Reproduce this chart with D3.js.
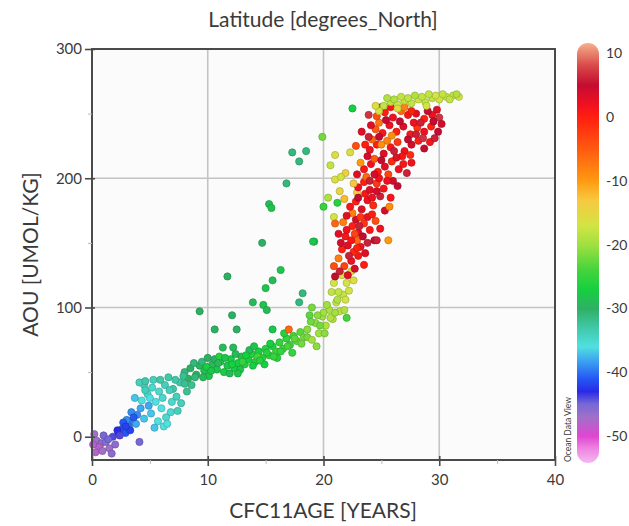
<!DOCTYPE html>
<html>
<head>
<meta charset="utf-8">
<script src="https://cdn.jsdelivr.net/npm/d3@7/dist/d3.min.js"></script>
<style>
  html, body { margin: 0; padding: 0; background: #fff; }
  svg text { font-family: Lato, 'Open Sans', sans-serif; fill: #3a3a3a; }
</style>
</head>
<body>
<div id="chart"></div>
<script>
// [CFC11 age (years), AOU (umol/kg), latitude (deg N)]
const polarPoints = [
    [0.2, 2, -47], [0.4, -3, -47], [0.8, -5, -46], [1.2, -4, -46], [1.5, -9, -47],
    [1.7, -13, -46], [0.6, -8, -48], [1.0, 1, -45], [0.3, -12, -48], [2.0, -6, -46],
    [4.1, -4, -45], [1.8, 0, -44], [2.3, 3, -42], [2.6, 6, -41], [2.2, 5, -43],
    [2.9, 3, -41], [3.2, 9, -40], [3.5, 12, -40], [3.0, 13, -39], [3.9, 17, -39],
    [3.4, 19, -39], [4.2, 22, -38], [2.7, 11, -41], [3.8, 10, -38], [4.5, 14, -37],
    [0.1, -6, -48], [0.9, -11, -47], [1.4, -2, -45], [2.4, 1, -44], [3.3, 5, -42],
    [3.6, 15, -41], [2.9, 8, -42]
];

const cyanPoints = [
    [4.3, 28, -36], [4.8, 33, -35], [5.2, 38, -35], [4.5, 40, -34], [5.8, 35, -35],
    [6.3, 40, -34], [5.5, 27, -36], [6.0, 22, -36], [5.1, 18, -37], [5.7, 12, -36],
    [6.4, 15, -35], [6.9, 27, -35], [7.3, 31, -34], [7.0, 37, -33], [7.6, 42, -33],
    [8.2, 35, -32], [8.6, 40, -32], [6.6, 46, -33], [5.3, 44, -34], [4.9, 24, -38],
    [7.9, 47, -32], [8.9, 46, -31], [6.2, 8, -36], [7.4, 20, -34], [4.1, 42, -34],
    [4.6, 43, -33], [4.6, 36, -34], [5.0, 30, -36], [6.1, 30, -35], [6.7, 36, -34],
    [7.2, 44, -33], [8.0, 41, -32], [5.9, 44, -33], [6.8, 19, -35], [5.4, 7, -37],
    [7.7, 26, -34], [6.5, 10, -36], [3.7, 30, -37]
];

const bandPoints = [
    [8.0, 50, -31], [8.5, 53, -30], [9.0, 48, -30], [9.3, 55, -29], [9.7, 51, -29],
    [10.1, 47, -28], [10.4, 56, -29], [10.8, 52, -28], [11.1, 58, -28], [11.4, 50, -27],
    [11.7, 55, -28], [12.0, 60, -27], [12.3, 53, -27], [12.6, 57, -27], [12.9, 62, -28],
    [13.2, 56, -26], [13.5, 60, -27], [13.8, 64, -26], [14.1, 58, -26], [14.4, 66, -27],
    [14.7, 61, -26], [15.0, 68, -26], [15.3, 63, -25], [15.6, 70, -26], [15.9, 66, -25],
    [16.2, 73, -25], [16.5, 68, -24], [16.8, 76, -25], [17.1, 71, -24], [17.4, 78, -24],
    [17.7, 74, -23], [18.0, 81, -23], [18.3, 77, -22], [9.5, 58, -31], [10.6, 60, -30],
    [11.9, 49, -29], [12.8, 52, -28], [13.6, 67, -29], [14.9, 56, -27], [16.0, 61, -26],
    [17.3, 65, -25], [9.9, 54, -27], [11.0, 62, -26], [13.0, 58, -25], [14.3, 62, -24],
    [8.3, 45, -30], [8.8, 57, -31], [9.6, 46, -29], [10.3, 51, -28], [10.9, 57, -29],
    [11.5, 61, -28], [12.1, 56, -27], [12.6, 49, -28], [13.3, 63, -27], [13.9, 55, -27],
    [14.5, 59, -26], [15.1, 65, -26], [15.7, 62, -25], [16.3, 66, -25], [16.9, 70, -24],
    [17.5, 76, -23], [18.1, 72, -22], [18.6, 77, -22], [14.0, 70, -28], [15.4, 72, -27],
    [16.6, 80, -26], [10.0, 61, -30], [12.4, 64, -29]
];

const outlierPoints = [
    [19.9, 232, -22], [17.3, 220, -31], [18.5, 221, -31], [17.9, 213, -31], [16.8, 196, -31],
    [15.3, 180, -29], [15.5, 177, -28], [20.0, 178, -25], [14.7, 150, -30], [19.2, 151, -27],
    [11.7, 124, -30], [16.3, 129, -28], [15.6, 121, -29], [15.0, 115, -28], [13.9, 104, -29],
    [14.8, 102, -28], [15.1, 98, -29], [18.2, 111, -31], [17.9, 104, -31], [9.3, 97, -30],
    [12.1, 94, -30], [10.6, 83, -30], [12.5, 83, -30], [15.6, 83, -28], [11.3, 69, -29],
    [12.2, 69, -29], [17.0, 83, -6], [22.5, 254, -27], [21.2, 181, -26], [19.1, 151, -28]
];

const transitionPoints = [
    [18.6, 83, -21], [19.0, 75, -20], [19.3, 88, -21], [19.6, 80, -20], [19.9, 93, -20],
    [20.2, 86, -19], [20.5, 98, -19], [20.8, 91, -19], [21.1, 104, -18], [21.4, 97, -18],
    [21.7, 110, -18], [22.0, 119, -17], [21.2, 106, -19], [22.2, 113, -17], [20.0, 96, -20],
    [22.0, 92, -24], [19.0, 100, -22], [21.6, 125, -16], [22.4, 128, -16], [20.7, 112, -18],
    [20.6, 210, -18], [21.0, 218, -16], [20.4, 185, -19], [20.9, 170, -17], [21.4, 190, -15],
    [21.9, 204, -14], [21.0, 199, -16], [21.5, 201, -17], [18.9, 89, -22], [19.5, 94, -21],
    [20.3, 102, -20], [20.6, 92, -19], [21.0, 96, -20], [21.3, 112, -18], [21.9, 106, -17],
    [20.1, 80, -21], [19.7, 86, -22], [20.9, 119, -17], [22.6, 121, -16], [21.8, 98, -19],
    [18.8, 94, -23], [19.4, 70, -21]
];

const tropicalPoints = [
    [21.8, 132, -3], [22.4, 136, 2], [22.7, 130, 4], [21.3, 138, -8], [23.0, 140, 1], [21.0, 124, 5],
    [21.6, 145, 0], [22.1, 148, 3], [22.6, 143, -1], [23.2, 147, 2], [23.8, 150, 6], [22.9, 152, -6],
    [21.9, 155, 1], [24.4, 152, 5], [25.6, 152, -10], [24.6, 152, 6],
    [22.0, 160, 2], [22.5, 163, 0], [23.0, 158, 3], [23.5, 165, -2], [24.0, 160, 1], [22.8, 168, 4],
    [21.7, 166, -8], [23.8, 170, 2], [24.5, 167, -4], [21.0, 165, -6], [22.5, 173, -8],
    [22.3, 178, 1], [22.8, 182, 0], [23.3, 176, 3], [23.8, 183, 2], [24.3, 179, -1], [24.9, 186, 6],
    [22.9, 189, -14], [21.8, 184, -12], [25.3, 175, 4], [23.6, 188, 1],
    [23.0, 193, 2], [23.5, 197, 0], [24.0, 191, 3], [24.6, 196, -2], [25.2, 192, 1], [25.7, 178, -9],
    [26.0, 198, 4], [22.6, 196, -13], [23.7, 201, -6], [24.8, 200, 2],
    [23.5, 207, 1], [24.1, 211, 2], [24.7, 205, 0], [25.3, 209, 3], [25.9, 213, -1], [26.5, 207, 2],
    [27.2, 204, 6], [24.4, 215, -5], [23.2, 212, -10], [25.6, 203, -3], [26.9, 211, 1], [22.3, 220, -16],
    [24.0, 222, 2], [24.6, 226, 0], [25.2, 219, 3], [25.8, 224, 1], [26.4, 228, -2], [27.0, 221, 2],
    [27.6, 226, 4], [28.2, 229, 0], [24.2, 230, -6], [25.5, 229, -8], [26.8, 217, 1], [28.7, 223, 5],
    [29.2, 228, 1],
    [23.9, 232, 6], [24.5, 238, -5], [25.1, 235, 1], [25.7, 241, 2], [26.3, 236, 0], [26.9, 240, 3],
    [27.5, 234, 1], [28.1, 239, -2], [28.7, 236, 2], [29.3, 240, 0], [29.6, 231, 6], [25.9, 233, -9],
    [27.8, 243, 2], [24.8, 243, -7],
    [23.9, 249, 7], [24.6, 248, -4], [25.3, 251, 0], [26.0, 247, 2], [26.7, 252, -6], [27.3, 249, 1],
    [28.0, 250, 3], [28.7, 246, 0], [29.4, 249, 2], [30.0, 247, 7], [30.2, 242, 4], [25.0, 255, 4],
    [27.0, 255, -8],
    [22.2, 140, 6], [23.4, 155, 5], [22.7, 157, -3], [23.6, 142, 3], [21.5, 150, 4], [22.4, 152, 1],
    [23.1, 163, 6], [24.2, 172, 0], [22.0, 171, 3], [23.0, 185, 5], [24.6, 190, 4], [23.2, 170, -2],
    [24.0, 198, 6], [25.5, 198, 2], [22.9, 203, 3], [24.4, 203, 4], [25.0, 214, 5], [26.3, 216, 3],
    [23.8, 217, 4], [27.6, 212, 2], [24.8, 232, 5], [26.1, 221, 6], [27.3, 230, 5], [28.6, 231, 7],
    [26.6, 244, 5], [29.9, 236, 5], [28.4, 243, 6], [24.1, 241, 3], [25.4, 245, 5], [23.6, 226, 0],
    [22.8, 225, -4], [25.0, 226, -9], [23.3, 236, 3], [29.0, 252, 5], [25.8, 255, 1], [27.6, 252, 0],
    [29.8, 253, 3], [21.4, 128, 6], [22.1, 125, 3], [20.9, 132, -4], [23.5, 133, 0], [22.9, 146, 0],
    [24.9, 161, 2], [25.8, 185, 1], [26.4, 194, 5], [27.5, 218, -1], [28.0, 234, 6], [29.5, 244, 5],
    [24.2, 185, 2], [21.3, 157, 3]
];

const capPoints = [
    [25.2, 256, -18], [25.8, 259, -18], [26.4, 257, -17], [27.0, 260, -18], [27.6, 258, -18],
    [28.2, 261, -17], [28.8, 259, -18], [29.4, 262, -18], [30.0, 261, -17], [30.6, 263, -18],
    [31.2, 264, -18], [31.7, 263, -17], [26.1, 261, -19], [27.3, 262, -18], [28.5, 263, -18],
    [29.7, 264, -17], [30.9, 261, -18], [24.8, 252, -17], [25.5, 262, -19], [26.7, 263, -18],
    [27.9, 264, -19], [29.1, 265, -18], [30.3, 265, -18], [31.5, 265, -19], [26.4, 254, -16],
    [28.9, 256, -17], [24.5, 256, -16]
];

const ageTicks = [0, 10, 20, 30, 40];
const ageMinorTicks = [5, 15, 25, 35];
const aouTicks = [0, 100, 200, 300];
const aouMinorTicks = [50, 150, 250];
const latTicks = [10, 0, -10, -20, -30, -40, -50];

// colour stops of the latitude palette
const latStops = [-54.2, -52, -50, -47, -45, -43, -41, -38, -36, -33, -30, -27, -24, -20, -17, -13, -10, -5, 0, 2, 5, 8, 11.6];
const latColors = ['#f4b8f0', '#ee86e2', '#e046d0', '#a070c8', '#7868d6', '#2a2ae6', '#2458f4', '#3ea8f0', '#50e0e0',
    '#40c8a8', '#2eb064', '#16d040', '#44d43c', '#a0e040', '#d2e444', '#f8c840', '#ff9a10', '#ff5a10',
    '#ff1e10', '#f01020', '#c40c30', '#d84848', '#f6b08c'];

const W = 629, H = 526;
const plot = { left: 92, right: 555, top: 49, bottom: 460 };
const bar = { left: 577, width: 22, top: 43, bottom: 463 };

const svg = d3.select('#chart').append('svg')
    .attr('width', W)
    .attr('height', H);

const x = d3.scaleLinear().domain([0, 40]).range([plot.left, plot.right]);
const y = d3.scaleLinear().domain([-18, 300]).range([plot.bottom, plot.top]);
const color = d3.scaleLinear().domain(latStops).range(latColors).clamp(true);
const cy = d3.scaleLinear().domain([-54.2, 11.6]).range([bar.bottom, bar.top]);

// plot background
svg.append('rect')
    .attr('x', plot.left).attr('y', plot.top)
    .attr('width', plot.right - plot.left).attr('height', plot.bottom - plot.top)
    .attr('fill', '#fbfbfb');

// grid
svg.append('g')
    .selectAll('line')
    .data(ageTicks.slice(1, -1))
    .enter().append('line')
    .attr('x1', function(d) { return x(d); }).attr('x2', function(d) { return x(d); })
    .attr('y1', plot.top).attr('y2', plot.bottom)
    .attr('stroke', '#c4c4c4').attr('stroke-width', 1.6);

svg.append('g')
    .selectAll('line')
    .data(aouTicks.slice(1, -1))
    .enter().append('line')
    .attr('x1', plot.left).attr('x2', plot.right)
    .attr('y1', function(d) { return y(d); }).attr('y2', function(d) { return y(d); })
    .attr('stroke', '#c4c4c4').attr('stroke-width', 1.6);

// points
const groups = [bandPoints, cyanPoints, polarPoints, outlierPoints, transitionPoints, tropicalPoints, capPoints];
const dots = svg.append('g');
groups.forEach(function(pts) {
    dots.selectAll(null)
        .data(pts)
        .enter().append('circle')
        .attr('cx', function(d) { return x(d[0]); })
        .attr('cy', function(d) { return y(d[1]); })
        .attr('r', 3.6)
        .attr('fill', function(d) { return color(d[2]); })
        .attr('stroke', function(d) { return d3.color(color(d[2])).darker(0.7); })
        .attr('stroke-width', 0.7);
});

// frame
svg.append('rect')
    .attr('x', plot.left).attr('y', plot.top)
    .attr('width', plot.right - plot.left).attr('height', plot.bottom - plot.top)
    .attr('fill', 'none').attr('stroke', '#4a4a4a').attr('stroke-width', 2);

// axes
const xAxis = svg.append('g')
    .attr('transform', 'translate(0,' + plot.bottom + ')')
    .call(d3.axisBottom(x).tickValues(ageTicks).tickSize(6).tickSizeOuter(0));
xAxis.select('.domain').remove();
xAxis.selectAll('line').attr('stroke', '#4a4a4a').attr('stroke-width', 1.6).attr('y1', -4);
xAxis.selectAll('text').attr('dy', '1.05em').style('font-size', '15px');

svg.append('g')
    .attr('transform', 'translate(0,' + plot.bottom + ')')
    .call(d3.axisBottom(x).tickValues(ageMinorTicks).tickSize(4).tickFormat(''))
    .call(function(g) { g.select('.domain').remove(); })
    .selectAll('line').attr('stroke', '#bbb');

const yAxis = svg.append('g')
    .attr('transform', 'translate(' + plot.left + ',0)')
    .call(d3.axisLeft(y).tickValues(aouTicks).tickSize(7).tickSizeOuter(0));
yAxis.select('.domain').remove();
yAxis.selectAll('line').attr('stroke', '#4a4a4a').attr('stroke-width', 1.6).attr('x1', 3);
yAxis.selectAll('text').attr('x', -10).style('font-size', '15px');

svg.append('g')
    .attr('transform', 'translate(' + plot.left + ',0)')
    .call(d3.axisLeft(y).tickValues(aouMinorTicks).tickSize(4).tickFormat(''))
    .call(function(g) { g.select('.domain').remove(); })
    .selectAll('line').attr('stroke', '#bbb');

// titles
svg.append('text')
    .attr('x', 323).attr('y', 27)
    .attr('text-anchor', 'middle')
    .style('font-size', '21px')
    .text('Latitude [degrees_North]');

svg.append('text')
    .attr('x', 323).attr('y', 518)
    .attr('text-anchor', 'middle')
    .style('font-size', '21px')
    .text('CFC11AGE [YEARS]');

svg.append('text')
    .attr('transform', 'translate(38,' + ((plot.top + plot.bottom) / 2) + ') rotate(-90)')
    .attr('text-anchor', 'middle')
    .style('font-size', '21px')
    .text('AOU [UMOL/KG]');

// colour bar
const grad = svg.append('defs').append('linearGradient')
    .attr('id', 'latgrad')
    .attr('x1', 0).attr('y1', 1).attr('x2', 0).attr('y2', 0);
grad.selectAll('stop')
    .data(latStops)
    .enter().append('stop')
    .attr('offset', function(d) { return (bar.bottom - cy(d)) / (bar.bottom - bar.top); })
    .attr('stop-color', function(d) { return color(d); });

svg.append('rect')
    .attr('x', bar.left).attr('y', bar.top)
    .attr('width', bar.width).attr('height', bar.bottom - bar.top)
    .attr('rx', bar.width / 2).attr('ry', bar.width / 2)
    .attr('fill', 'url(#latgrad)');

svg.append('g')
    .selectAll('text')
    .data(latTicks)
    .enter().append('text')
    .attr('x', bar.left + bar.width + 7)
    .attr('y', function(d) { return cy(d); })
    .attr('dy', '0.35em')
    .style('font-size', '14px')
    .text(function(d) { return d; });

svg.append('text')
    .attr('transform', 'translate(571,' + 462 + ') rotate(-90)')
    .style('font-size', '8.5px')
    .text('Ocean Data View');
</script>
</body>
</html>
